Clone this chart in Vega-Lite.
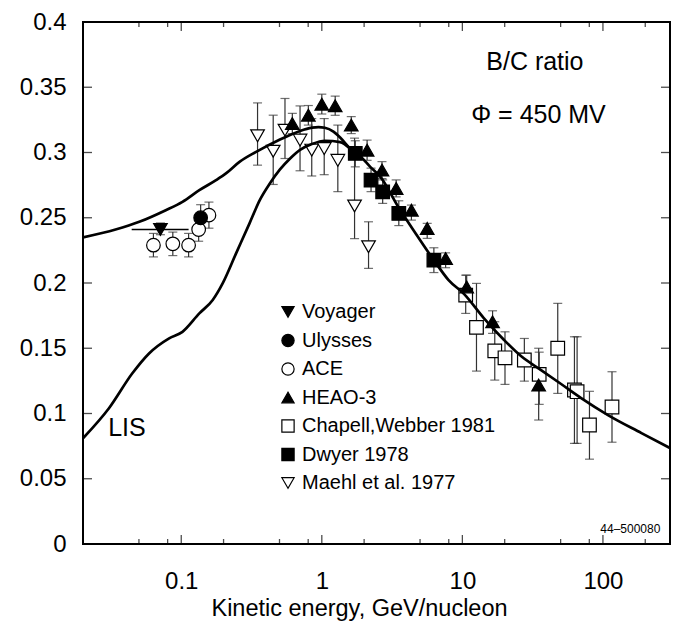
{
  "$schema": "https://vega.github.io/schema/vega-lite/v6.json",
  "width": 587,
  "height": 522,
  "autosize": {"type": "none"},
  "padding": {"left": 83, "top": 22, "right": 5, "bottom": 79},
  "background": "white",
  "config": {
    "view": {"stroke": "black", "strokeWidth": 2},
    "axis": {"grid": false, "domain": false, "ticks": false, "labelColor": "black", "labelFont": "Liberation Sans", "titleFont": "Liberation Sans", "titleColor": "black", "titleFontWeight": "normal"},
    "legend": {"labelFont": "Liberation Sans", "labelFontSize": 20, "labelColor": "black", "labelLimit": 400, "symbolStrokeWidth": 1.2, "symbolSize": 150, "rowPadding": 8.5, "labelOffset": 4, "padding": 0}
  },
  "datasets": {
    "points": [
      {"series": "Voyager", "E": 0.0711, "v": 0.241, "lo": 0.237, "hi": 0.246, "elo": 0.0444, "ehi": 0.1128},
      {"series": "ACE", "E": 0.0634, "v": 0.229, "lo": 0.220, "hi": 0.238},
      {"series": "ACE", "E": 0.0871, "v": 0.230, "lo": 0.221, "hi": 0.239},
      {"series": "ACE", "E": 0.1128, "v": 0.229, "lo": 0.220, "hi": 0.238},
      {"series": "ACE", "E": 0.133, "v": 0.241, "lo": 0.232, "hi": 0.250},
      {"series": "ACE", "E": 0.1574, "v": 0.252, "lo": 0.242, "hi": 0.262},
      {"series": "Ulysses", "E": 0.1374, "v": 0.250, "lo": 0.240, "hi": 0.260},
      {"series": "Maehl et al. 1977", "E": 0.349, "v": 0.3128, "lo": 0.2903, "hi": 0.338},
      {"series": "Maehl et al. 1977", "E": 0.451, "v": 0.301, "lo": 0.2755, "hi": 0.3286},
      {"series": "Maehl et al. 1977", "E": 0.547, "v": 0.3171, "lo": 0.2954, "hi": 0.3414},
      {"series": "Maehl et al. 1977", "E": 0.70, "v": 0.3095, "lo": 0.286, "hi": 0.3357},
      {"series": "Maehl et al. 1977", "E": 0.848, "v": 0.3018, "lo": 0.282, "hi": 0.326},
      {"series": "Maehl et al. 1977", "E": 1.04, "v": 0.303, "lo": 0.283, "hi": 0.326},
      {"series": "Maehl et al. 1977", "E": 1.30, "v": 0.294, "lo": 0.270, "hi": 0.321},
      {"series": "Maehl et al. 1977", "E": 1.71, "v": 0.259, "lo": 0.234, "hi": 0.311},
      {"series": "Maehl et al. 1977", "E": 2.15, "v": 0.2278, "lo": 0.2112, "hi": 0.2469},
      {"series": "Chapell,Webber 1981", "E": 10.56, "v": 0.1907, "lo": 0.1767, "hi": 0.206},
      {"series": "Chapell,Webber 1981", "E": 12.6, "v": 0.166, "lo": 0.1325, "hi": 0.1997},
      {"series": "Chapell,Webber 1981", "E": 17.0, "v": 0.148, "lo": 0.1256, "hi": 0.1703},
      {"series": "Chapell,Webber 1981", "E": 20.1, "v": 0.1427, "lo": 0.1223, "hi": 0.1626},
      {"series": "Chapell,Webber 1981", "E": 27.6, "v": 0.141, "lo": 0.1248, "hi": 0.1575},
      {"series": "Chapell,Webber 1981", "E": 35.2, "v": 0.130, "lo": 0.107, "hi": 0.147},
      {"series": "Chapell,Webber 1981", "E": 47.7, "v": 0.150, "lo": 0.1154, "hi": 0.1844},
      {"series": "Chapell,Webber 1981", "E": 62.7, "v": 0.118, "lo": 0.0771, "hi": 0.1588},
      {"series": "Chapell,Webber 1981", "E": 65.5, "v": 0.1167, "lo": 0.0771, "hi": 0.1588},
      {"series": "Chapell,Webber 1981", "E": 80.2, "v": 0.0912, "lo": 0.065, "hi": 0.117},
      {"series": "Chapell,Webber 1981", "E": 116, "v": 0.105, "lo": 0.078, "hi": 0.132},
      {"series": "Dwyer 1978", "E": 1.73, "v": 0.2993, "lo": 0.289, "hi": 0.309},
      {"series": "Dwyer 1978", "E": 2.24, "v": 0.2788, "lo": 0.270, "hi": 0.288},
      {"series": "Dwyer 1978", "E": 2.71, "v": 0.2699, "lo": 0.261, "hi": 0.279},
      {"series": "Dwyer 1978", "E": 3.53, "v": 0.2533, "lo": 0.244, "hi": 0.263},
      {"series": "Dwyer 1978", "E": 6.27, "v": 0.2175, "lo": 0.208, "hi": 0.227},
      {"series": "HEAO-3", "E": 0.617, "v": 0.3222, "lo": 0.3145, "hi": 0.330},
      {"series": "HEAO-3", "E": 0.802, "v": 0.3286, "lo": 0.321, "hi": 0.336},
      {"series": "HEAO-3", "E": 1.0, "v": 0.337, "lo": 0.3295, "hi": 0.3447},
      {"series": "HEAO-3", "E": 1.245, "v": 0.3358, "lo": 0.3285, "hi": 0.3432},
      {"series": "HEAO-3", "E": 1.62, "v": 0.321, "lo": 0.3145, "hi": 0.3275},
      {"series": "HEAO-3", "E": 2.10, "v": 0.3018, "lo": 0.294, "hi": 0.3095},
      {"series": "HEAO-3", "E": 2.68, "v": 0.2865, "lo": 0.280, "hi": 0.293},
      {"series": "HEAO-3", "E": 3.38, "v": 0.2725, "lo": 0.266, "hi": 0.279},
      {"series": "HEAO-3", "E": 4.34, "v": 0.2558, "lo": 0.2482, "hi": 0.2597},
      {"series": "HEAO-3", "E": 5.62, "v": 0.2418, "lo": 0.2342, "hi": 0.2457},
      {"series": "HEAO-3", "E": 7.6, "v": 0.2188, "lo": 0.2117, "hi": 0.2231},
      {"series": "HEAO-3", "E": 10.73, "v": 0.197, "lo": 0.1894, "hi": 0.206},
      {"series": "HEAO-3", "E": 16.4, "v": 0.1703, "lo": 0.1614, "hi": 0.1787},
      {"series": "HEAO-3", "E": 34.9, "v": 0.1218, "lo": 0.095, "hi": 0.150}
    ],
    "curves": [
      {"series": "LIS", "E": 0.02, "v": 0.081},
      {"series": "LIS", "E": 0.0306, "v": 0.104},
      {"series": "LIS", "E": 0.0449, "v": 0.1308},
      {"series": "LIS", "E": 0.059, "v": 0.146},
      {"series": "LIS", "E": 0.082, "v": 0.1576},
      {"series": "LIS", "E": 0.102, "v": 0.1626},
      {"series": "LIS", "E": 0.1345, "v": 0.1767},
      {"series": "LIS", "E": 0.1675, "v": 0.187},
      {"series": "LIS", "E": 0.197, "v": 0.1997},
      {"series": "LIS", "E": 0.2455, "v": 0.2227},
      {"series": "LIS", "E": 0.306, "v": 0.2457},
      {"series": "LIS", "E": 0.362, "v": 0.2635},
      {"series": "LIS", "E": 0.4255, "v": 0.276},
      {"series": "LIS", "E": 0.504, "v": 0.287},
      {"series": "LIS", "E": 0.59, "v": 0.295},
      {"series": "LIS", "E": 0.70, "v": 0.302},
      {"series": "LIS", "E": 0.85, "v": 0.3065},
      {"series": "LIS", "E": 1.056, "v": 0.309},
      {"series": "LIS", "E": 1.35, "v": 0.308},
      {"series": "LIS", "E": 1.59, "v": 0.303},
      {"series": "mod", "E": 0.02, "v": 0.235},
      {"series": "mod", "E": 0.0341, "v": 0.241},
      {"series": "mod", "E": 0.0503, "v": 0.2469},
      {"series": "mod", "E": 0.0776, "v": 0.2558},
      {"series": "mod", "E": 0.102, "v": 0.2622},
      {"series": "mod", "E": 0.1345, "v": 0.2711},
      {"series": "mod", "E": 0.178, "v": 0.279},
      {"series": "mod", "E": 0.208, "v": 0.284},
      {"series": "mod", "E": 0.261, "v": 0.293},
      {"series": "mod", "E": 0.341, "v": 0.3005},
      {"series": "mod", "E": 0.504, "v": 0.310},
      {"series": "mod", "E": 0.594, "v": 0.3135},
      {"series": "mod", "E": 0.70, "v": 0.3165},
      {"series": "mod", "E": 0.85, "v": 0.319},
      {"series": "mod", "E": 0.946, "v": 0.3195},
      {"series": "mod", "E": 1.05, "v": 0.319},
      {"series": "mod", "E": 1.21, "v": 0.316},
      {"series": "mod", "E": 1.35, "v": 0.3115},
      {"series": "mod", "E": 1.59, "v": 0.303},
      {"series": "mod", "E": 1.877, "v": 0.2972},
      {"series": "mod", "E": 2.21, "v": 0.289},
      {"series": "mod", "E": 2.61, "v": 0.2813},
      {"series": "mod", "E": 3.51, "v": 0.2581},
      {"series": "mod", "E": 4.64, "v": 0.2382},
      {"series": "mod", "E": 6.27, "v": 0.2175},
      {"series": "mod", "E": 7.98, "v": 0.2022},
      {"series": "mod", "E": 10.3, "v": 0.1915},
      {"series": "mod", "E": 14.2, "v": 0.1731},
      {"series": "mod", "E": 19.8, "v": 0.1563},
      {"series": "mod", "E": 26.1, "v": 0.144},
      {"series": "mod", "E": 36.3, "v": 0.1333},
      {"series": "mod", "E": 50.4, "v": 0.1226},
      {"series": "mod", "E": 70, "v": 0.1118},
      {"series": "mod", "E": 108.6, "v": 0.0988},
      {"series": "mod", "E": 188, "v": 0.085},
      {"series": "mod", "E": 300, "v": 0.0735}
    ],
    "xticks": [
      {"E": 0.05, "kind": "minor"}, {"E": 0.08, "kind": "minor"}, {"E": 0.1, "kind": "major"},
      {"E": 0.2, "kind": "minor"}, {"E": 0.5, "kind": "minor"}, {"E": 0.8, "kind": "minor"}, {"E": 1, "kind": "major"},
      {"E": 2, "kind": "minor"}, {"E": 5, "kind": "minor"}, {"E": 8, "kind": "minor"}, {"E": 10, "kind": "major"},
      {"E": 20, "kind": "minor"}, {"E": 50, "kind": "minor"}, {"E": 80, "kind": "minor"}, {"E": 100, "kind": "major"},
      {"E": 200, "kind": "minor"}
    ],
    "yticks": [
      {"v": 0.05}, {"v": 0.1}, {"v": 0.15}, {"v": 0.2}, {"v": 0.25}, {"v": 0.3}, {"v": 0.35}
    ],
    "notes": [
      {"label": "B/C ratio", "E": 32.8, "v": 0.363},
      {"label": "Φ = 450 MV", "E": 34.8, "v": 0.3223},
      {"label": "LIS", "E": 0.0411, "v": 0.083}
    ],
    "tag": [
      {"label": "44–500080", "E": 156.7, "v": 0.0082}
    ]
  },
  "layer": [
    {
      "data": {"name": "curves"},
      "mark": {"type": "line", "color": "black", "strokeWidth": 2.7, "interpolate": "monotone", "clip": true, "opacity": 0},
      "encoding": {
        "x": {"field": "E", "type": "quantitative", "scale": {"type": "log", "domain": [0.02, 300], "nice": false},
          "axis": {"orient": "bottom", "ticks": false, "labelPadding": 25, "labelFontSize": 24, "labelOverlap": false, "labelFlush": false,
            "values": [0.1, 1, 10, 100],
            "format": "~g",
            "title": "Kinetic energy, GeV/nucleon", "titleFontSize": 23.5, "titleX": 276, "titleY": 71, "titleBaseline": "alphabetic", "titleAnchor": "middle"}},
        "y": {"field": "v", "type": "quantitative", "scale": {"domain": [0, 0.4], "nice": false},
          "axis": {"orient": "left", "ticks": false, "labelPadding": 17, "labelFontSize": 24, "title": null, "format": "~g",
            "values": [0, 0.05, 0.1, 0.15, 0.2, 0.25, 0.3, 0.35, 0.4]}},
        "detail": {"field": "series"}
      }
    },
    {
      "data": {"name": "points"},
      "mark": {"type": "rule", "color": "#333", "strokeWidth": 1.2, "clip": true},
      "encoding": {
        "x": {"field": "E", "type": "quantitative", "axis": null},
        "y": {"field": "lo", "type": "quantitative", "axis": null},
        "y2": {"field": "hi"}
      }
    },
    {
      "data": {"name": "points"},
      "mark": {"type": "tick", "orient": "horizontal", "color": "#333", "size": 9, "thickness": 1.2, "clip": true},
      "encoding": {
        "x": {"field": "E", "type": "quantitative", "axis": null},
        "y": {"field": "lo", "type": "quantitative", "axis": null}
      }
    },
    {
      "data": {"name": "points"},
      "mark": {"type": "tick", "orient": "horizontal", "color": "#333", "size": 9, "thickness": 1.2, "clip": true},
      "encoding": {
        "x": {"field": "E", "type": "quantitative", "axis": null},
        "y": {"field": "hi", "type": "quantitative", "axis": null}
      }
    },
    {
      "data": {"name": "points"},
      "transform": [{"filter": "isValid(datum.elo)"}],
      "mark": {"type": "rule", "color": "black", "strokeWidth": 1.4, "clip": true},
      "encoding": {
        "x": {"field": "elo", "type": "quantitative", "axis": null},
        "x2": {"field": "ehi"},
        "y": {"field": "v", "type": "quantitative", "axis": null}
      }
    },
    {
      "data": {"name": "points"},
      "mark": {"type": "point", "filled": false, "strokeWidth": 1.2, "opacity": 1, "size": 185, "clip": true},
      "encoding": {
        "x": {"field": "E", "type": "quantitative", "axis": null},
        "y": {"field": "v", "type": "quantitative", "axis": null},
        "shape": {"field": "series", "type": "nominal",
          "scale": {"domain": ["Voyager", "Ulysses", "ACE", "HEAO-3", "Chapell,Webber 1981", "Dwyer 1978", "Maehl et al. 1977"],
            "range": ["triangle-down", "circle", "circle", "triangle-up", "square", "square", "triangle-down"]},
          "legend": {"orient": "none", "legendX": 195, "legendY": 280, "title": null}},
        "fill": {"field": "series", "type": "nominal",
          "scale": {"domain": ["Voyager", "Ulysses", "ACE", "HEAO-3", "Chapell,Webber 1981", "Dwyer 1978", "Maehl et al. 1977"],
            "range": ["black", "black", "white", "black", "white", "black", "white"]},
          "legend": {"orient": "none", "legendX": 195, "legendY": 280, "title": null}},
        "stroke": {"field": "series", "type": "nominal",
          "scale": {"domain": ["Voyager", "Ulysses", "ACE", "HEAO-3", "Chapell,Webber 1981", "Dwyer 1978", "Maehl et al. 1977"],
            "range": ["black", "black", "black", "black", "black", "black", "black"]},
          "legend": {"orient": "none", "legendX": 195, "legendY": 280, "title": null}}
      }
    },
    {
      "data": {"name": "curves"},
      "mark": {"type": "line", "color": "black", "strokeWidth": 2.7, "interpolate": "monotone", "clip": true},
      "encoding": {
        "x": {"field": "E", "type": "quantitative", "axis": null},
        "y": {"field": "v", "type": "quantitative", "axis": null},
        "detail": {"field": "series"}
      }
    },
    {
      "data": {"name": "notes"},
      "mark": {"type": "text", "font": "Liberation Sans", "fontSize": 25, "align": "center", "baseline": "alphabetic", "color": "black"},
      "encoding": {
        "x": {"field": "E", "type": "quantitative", "axis": null},
        "y": {"field": "v", "type": "quantitative", "axis": null},
        "text": {"field": "label"}
      }
    },
    {
      "data": {"name": "tag"},
      "mark": {"type": "text", "font": "Liberation Sans", "fontSize": 12, "align": "center", "baseline": "alphabetic", "color": "black"},
      "encoding": {
        "x": {"field": "E", "type": "quantitative", "axis": null},
        "y": {"field": "v", "type": "quantitative", "axis": null},
        "text": {"field": "label"}
      }
    },
    {
      "data": {"name": "xticks"},
      "mark": {"type": "tick", "orient": "vertical", "color": "black", "thickness": 1.3, "clip": true},
      "encoding": {
        "x": {"field": "E", "type": "quantitative", "axis": null},
        "y": {"datum": 0, "type": "quantitative", "axis": null},
        "size": {"field": "kind", "type": "nominal", "scale": {"domain": ["major", "minor"], "range": [18, 10]}, "legend": null}
      }
    },
    {
      "data": {"name": "xticks"},
      "mark": {"type": "tick", "orient": "vertical", "color": "black", "thickness": 1.3, "clip": true},
      "encoding": {
        "x": {"field": "E", "type": "quantitative", "axis": null},
        "y": {"datum": 0.4, "type": "quantitative", "axis": null},
        "size": {"field": "kind", "type": "nominal", "scale": {"domain": ["major", "minor"], "range": [18, 10]}, "legend": null}
      }
    },
    {
      "data": {"name": "yticks"},
      "mark": {"type": "tick", "orient": "horizontal", "color": "black", "thickness": 1.3, "size": 18, "clip": true},
      "encoding": {
        "y": {"field": "v", "type": "quantitative", "axis": null},
        "x": {"datum": 0.02, "type": "quantitative", "axis": null}
      }
    },
    {
      "data": {"name": "yticks"},
      "mark": {"type": "tick", "orient": "horizontal", "color": "black", "thickness": 1.3, "size": 18, "clip": true},
      "encoding": {
        "y": {"field": "v", "type": "quantitative", "axis": null},
        "x": {"datum": 300, "type": "quantitative", "axis": null}
      }
    }
  ],
  "resolve": {"axis": {"x": "independent", "y": "independent"}}
}
